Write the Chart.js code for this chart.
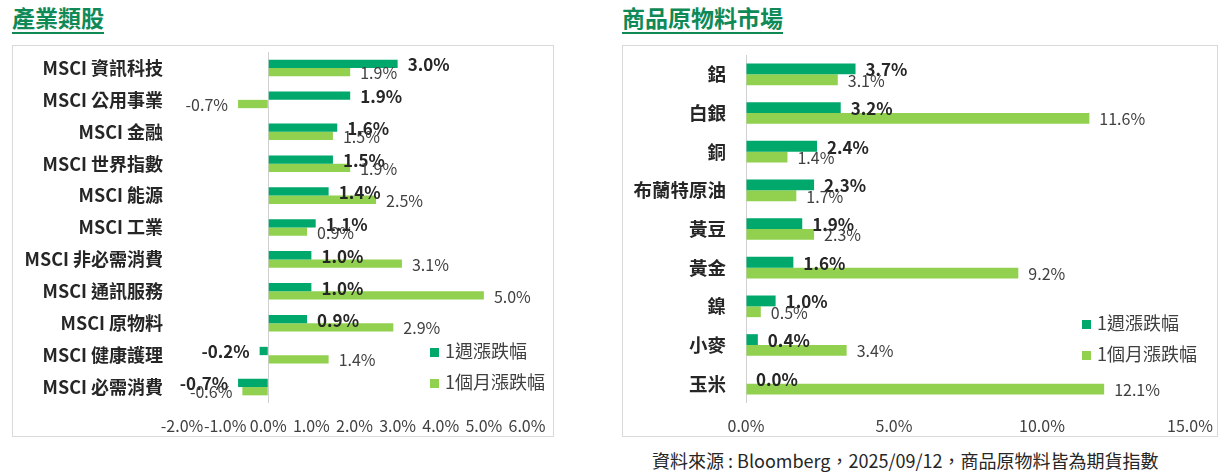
<!DOCTYPE html>
<html lang="zh-Hant">
<head>
<meta charset="UTF-8">
<title>產業類股 / 商品原物料市場</title>
<script src="https://cdn.jsdelivr.net/npm/chart.js"></script>
<style>
    body {
        margin: 0;
        width: 1222px;
        height: 475px;
        background: #fff;
        font-family: "Noto Sans CJK TC", "Noto Sans", sans-serif;
        position: relative;
        overflow: hidden;
    }
    .title {
        position: absolute;
        top: 3px;
        font-size: 23px;
        font-weight: bold;
        color: #0f8a57;
        border-bottom: 2px solid #0f8a57;
        line-height: 28px;
        padding-bottom: 1px;
    }
    .box {
        position: absolute;
        top: 45px;
        height: 392px;
        border: 1px solid #d9d9d9;
        box-sizing: border-box;
    }
    .box .chart {
        position: absolute;
        left: -1px;
        top: -1px;
        right: -1px;
        bottom: -1px;
    }
    .legend {
        position: absolute;
        font-size: 18px;
        color: #404040;
        line-height: 31px;
    }
    .legend span.sw {
        display: inline-block;
        width: 9px;
        height: 9px;
        margin-right: 6px;
        vertical-align: 1px;
    }
    .footer {
        position: absolute;
        left: 652px;
        top: 447px;
        font-size: 18px;
        color: #262626;
    }
</style>
</head>
<body>
    <div class="title" style="left:12px">產業類股</div>
    <div class="title" style="left:622px">商品原物料市場</div>

    <div class="box" style="left:12px; width:542px">
        <div class="chart"><canvas id="sectorChart"></canvas></div>
        <div class="legend" style="left:417px; top:289px">
            <div><span class="sw" style="background:#00a86b"></span>1週漲跌幅</div>
            <div><span class="sw" style="background:#92d050"></span>1個月漲跌幅</div>
        </div>
    </div>

    <div class="box" style="left:622px; width:596px">
        <div class="chart"><canvas id="commodityChart"></canvas></div>
        <div class="legend" style="left:459px; top:261px">
            <div><span class="sw" style="background:#00a86b"></span>1週漲跌幅</div>
            <div><span class="sw" style="background:#92d050"></span>1個月漲跌幅</div>
        </div>
    </div>

    <div class="footer">資料來源 : Bloomberg，2025/09/12，商品原物料皆為期貨指數</div>

<script>
    // 產業類股 data (%)
    const sectorLabels = ['MSCI 資訊科技', 'MSCI 公用事業', 'MSCI 金融', 'MSCI 世界指數', 'MSCI 能源', 'MSCI 工業',
        'MSCI 非必需消費', 'MSCI 通訊服務', 'MSCI 原物料', 'MSCI 健康護理', 'MSCI 必需消費'];
    const sectorWeek = [3.0, 1.9, 1.6, 1.5, 1.4, 1.1, 1.0, 1.0, 0.9, -0.2, -0.7];
    const sectorMonth = [1.9, -0.7, 1.5, 1.9, 2.5, 0.9, 3.1, 5.0, 2.9, 1.4, -0.6];

    // 商品原物料市場 data (%)
    const commodityLabels = ['鋁', '白銀', '銅', '布蘭特原油', '黃豆', '黃金', '鎳', '小麥', '玉米'];
    const commodityWeek = [3.7, 3.2, 2.4, 2.3, 1.9, 1.6, 1.0, 0.4, 0.0];
    const commodityMonth = [3.1, 11.6, 1.4, 1.7, 2.3, 9.2, 0.5, 3.4, 12.1];

    const seriesNames = ['1週漲跌幅', '1個月漲跌幅'];
    const darkGreen = '#00a86b';
    const lightGreen = '#92d050';
    const fontFamily = '"Noto Sans CJK TC", "Noto Sans", sans-serif';

    // draws value labels at the outer end of each bar
    const barLabels = {
        id: 'barLabels',
        afterDatasetsDraw(chart, args, opts) {
            const ctx = chart.ctx;
            ctx.save();
            chart.data.datasets.forEach((ds, i) => {
                const meta = chart.getDatasetMeta(i);
                ctx.font = i === 0
                    ? 'bold ' + opts.darkSize + 'px ' + fontFamily
                    : opts.lightSize + 'px ' + fontFamily;
                ctx.fillStyle = i === 0 ? '#262626' : '#404040';
                ctx.textBaseline = 'middle';
                meta.data.forEach((bar, j) => {
                    const v = ds.data[j];
                    const text = v.toFixed(1) + '%';
                    let x;
                    if (v < 0) {
                        ctx.textAlign = 'right';
                        x = bar.x - opts.offset;
                    } else {
                        ctx.textAlign = 'left';
                        x = Math.max(bar.x, bar.base) + opts.offset;
                    }
                    ctx.fillText(text, x, bar.y + 1);
                });
            });
            ctx.restore();
        }
    };

    function makeChart(id, labels, week, month, cfg) {
        return new Chart(document.getElementById(id), {
            type: 'bar',
            data: {
                labels: labels,
                datasets: [
                    { label: seriesNames[0], data: week, backgroundColor: darkGreen },
                    { label: seriesNames[1], data: month, backgroundColor: lightGreen }
                ]
            },
            options: {
                indexAxis: 'y',
                responsive: true,
                maintainAspectRatio: false,
                animation: false,
                categoryPercentage: cfg.catPct,
                barPercentage: 1.0,
                layout: { padding: { left: 0, right: cfg.padRight, top: cfg.padTop, bottom: 0 } },
                plugins: {
                    legend: { display: false },
                    tooltip: { enabled: false },
                    barLabels: { offset: 10, darkSize: 17, lightSize: 16 }
                },
                scales: {
                    x: {
                        min: cfg.min,
                        max: cfg.max,
                        ticks: {
                            stepSize: cfg.step,
                            padding: cfg.tickPad,
                            maxRotation: 0,
                            minRotation: 0,
                            autoSkip: false,
                            color: '#404040',
                            font: { family: fontFamily, size: 16 },
                            callback: v => v.toFixed(1) + '%'
                        },
                        grid: {
                            drawTicks: false,
                            color: c => (c.tick && c.tick.value === 0) ? '#d0d0d0' : 'rgba(0,0,0,0)'
                        },
                        border: { display: false },
                        afterFit: s => {
                            s.height = cfg.xHeight;
                            s.paddingLeft = 0;
                            s.paddingRight = 0;
                        }
                    },
                    y: {
                        ticks: {
                            padding: cfg.yPad,
                            color: '#262626',
                            font: { family: fontFamily, size: cfg.catSize, weight: 'bold' }
                        },
                        grid: { display: false, drawTicks: false },
                        border: { display: false },
                        afterFit: s => {
                            s.width = cfg.yWidth;
                            s.paddingTop = 0;
                            s.paddingBottom = 0;
                        }
                    }
                }
            },
            plugins: [barLabels]
        });
    }

    makeChart('sectorChart', sectorLabels, sectorWeek, sectorMonth, {
        min: -2, max: 6, step: 1, catPct: 0.52, padRight: 27, padTop: 7,
        yWidth: 170, yPad: 19, xHeight: 34, tickPad: 13, catSize: 18
    });

    makeChart('commodityChart', commodityLabels, commodityWeek, commodityMonth, {
        min: 0, max: 15, step: 5, catPct: 0.56, padRight: 28, padTop: 10,
        yWidth: 124, yPad: 20, xHeight: 34, tickPad: 13, catSize: 18.5
    });
</script>
</body>
</html>
